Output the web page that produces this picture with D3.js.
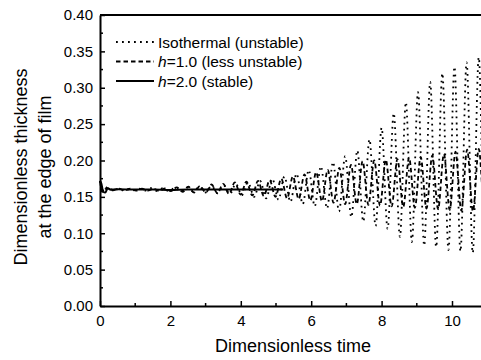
<!DOCTYPE html>
<html>
<head>
<meta charset="utf-8">
<script src="https://cdn.jsdelivr.net/npm/d3@7"></script>
<style>
  html, body { margin: 0; padding: 0; background: #fff; }
  svg { display: block; font-family: Arial, "Liberation Sans", sans-serif; }
</style>
</head>
<body>
<div id="chart"></div>
<script>
// Extrema of each curve: [dimensionless time, thickness]
const isothermalPoints = [
    [0, 0.172], [0.06, 0.157], [0.15, 0.164], [0.25, 0.159], [0.41, 0.1615], [0.58, 0.1585],
    [0.755, 0.161], [0.93, 0.159], [1.10, 0.1615], [1.27, 0.1585], [1.445, 0.162], [1.62, 0.158],
    [1.79, 0.162], [1.96, 0.158], [2.135, 0.1625], [2.31, 0.1575], [2.48, 0.163], [2.65, 0.157],
    [2.825, 0.164], [3.00, 0.156], [3.17, 0.165], [3.34, 0.155], [3.515, 0.166], [3.69, 0.154],
    [3.86, 0.168], [4.03, 0.152], [4.205, 0.170], [4.38, 0.150], [4.55, 0.172], [4.72, 0.148],
    [4.895, 0.175], [5.07, 0.146], [5.24, 0.178], [5.41, 0.143], [5.585, 0.182], [5.76, 0.140],
    [5.93, 0.187], [6.10, 0.137], [6.275, 0.192], [6.45, 0.134], [6.62, 0.198], [6.79, 0.130],
    [6.965, 0.206], [7.14, 0.122], [7.31, 0.214], [7.48, 0.116], [7.655, 0.229], [7.83, 0.110],
    [8.00, 0.245], [8.17, 0.106], [8.345, 0.265], [8.52, 0.095], [8.69, 0.280], [8.86, 0.088],
    [9.035, 0.294], [9.21, 0.083], [9.38, 0.308], [9.55, 0.081], [9.725, 0.320], [9.90, 0.077],
    [10.07, 0.329], [10.24, 0.075], [10.415, 0.335], [10.59, 0.073], [10.76, 0.342], [10.93, 0.074],
    [11.105, 0.345]
];
const h1Points = [
    [0, 0.172], [0.06, 0.157], [0.20, 0.162], [0.365, 0.159], [0.53, 0.1615], [0.695, 0.1588],
    [0.86, 0.1612], [1.025, 0.1585], [1.19, 0.1612], [1.355, 0.1585], [1.52, 0.1613], [1.685, 0.158],
    [1.85, 0.1615], [2.015, 0.158], [2.18, 0.163], [2.345, 0.157], [2.51, 0.164], [2.675, 0.156],
    [2.84, 0.165], [3.005, 0.156], [3.17, 0.167], [3.335, 0.155], [3.50, 0.168], [3.665, 0.154],
    [3.83, 0.170], [3.995, 0.153], [4.16, 0.171], [4.325, 0.152], [4.49, 0.172], [4.655, 0.151],
    [4.82, 0.173], [4.985, 0.150], [5.15, 0.175], [5.315, 0.148], [5.48, 0.178], [5.645, 0.147],
    [5.81, 0.181], [5.975, 0.145], [6.14, 0.184], [6.305, 0.144], [6.47, 0.187], [6.635, 0.142],
    [6.80, 0.190], [6.965, 0.140], [7.13, 0.194], [7.295, 0.140], [7.46, 0.199], [7.625, 0.139],
    [7.79, 0.200], [7.955, 0.138], [8.12, 0.201], [8.285, 0.137], [8.45, 0.202], [8.615, 0.136],
    [8.78, 0.204], [8.945, 0.135], [9.11, 0.205], [9.275, 0.134], [9.44, 0.207], [9.605, 0.133],
    [9.77, 0.209], [9.935, 0.132], [10.10, 0.212], [10.265, 0.131], [10.43, 0.215], [10.595, 0.130],
    [10.76, 0.216], [10.925, 0.130], [11.09, 0.217]
];
const h2Points = [
    [0, 0.172], [0.04, 0.168], [0.09, 0.157], [0.15, 0.156], [0.22, 0.162], [0.30, 0.160],
    [0.50, 0.1605], [1.0, 0.160], [1.5, 0.160], [2.0, 0.1595], [2.5, 0.160], [3.0, 0.160],
    [3.5, 0.160], [4.0, 0.160], [4.5, 0.160], [5.0, 0.160], [5.2, 0.160]
];
const xTicks = [0, 2, 4, 6, 8, 10];
const xMinorTicks = [1, 3, 5, 7, 9];
const yTicks = [0.00, 0.05, 0.10, 0.15, 0.20, 0.25, 0.30, 0.35, 0.40];
const yMinorTicks = [0.025, 0.075, 0.125, 0.175, 0.225, 0.275, 0.325, 0.375];
const legendLabels = ["Isothermal (unstable)", "=1.0 (less unstable)", "=2.0 (stable)"];

//Setup Dimensions
const width = 481;
const height = 360;
const plotLeft = 100, plotTop = 15, plotBottom = 306;

const svg = d3.select("#chart")
    .append("svg")
    .attr("width", width)
    .attr("height", height);

//Scales
const x = d3.scaleLinear().domain([0, 11]).range([plotLeft, plotLeft + 11 * 35.2]);
const y = d3.scaleLinear().domain([0, 0.4]).range([plotBottom, plotTop]);

//Curves
const line = d3.line()
    .x(d => x(d[0]))
    .y(d => y(d[1]))
    .curve(d3.curveMonotoneX);

const series = [
    { points: isothermalPoints, dash: "1.8,4.2", width: 1.8 },
    { points: h1Points, dash: "4.5,3", width: 1.8 },
    { points: h2Points, dash: null, width: 2 }
];

svg.selectAll(".curve")
    .data(series)
    .enter().append("path")
    .attr("class", "curve")
    .attr("d", d => line(d.points))
    .attr("fill", "none")
    .attr("stroke", "#000")
    .attr("stroke-width", d => d.width)
    .attr("stroke-dasharray", d => d.dash);

//Axes
const yAxis = svg.append("g")
    .attr("transform", `translate(${plotLeft},0)`)
    .call(d3.axisLeft(y).tickValues(yTicks).tickSizeInner(-5).tickSizeOuter(0)
        .tickFormat(d3.format(".2f")).tickPadding(7));
yAxis.selectAll(".minor")
    .data(yMinorTicks)
    .enter().append("line")
    .attr("class", "minor")
    .attr("x1", 0).attr("x2", 3)
    .attr("y1", d => y(d)).attr("y2", d => y(d))
    .attr("stroke", "#000").attr("stroke-width", 1.5);

const xAxis = svg.append("g")
    .attr("transform", `translate(0,${plotBottom})`)
    .call(d3.axisBottom(x).tickValues(xTicks).tickSizeInner(-5).tickSizeOuter(0)
        .tickFormat(d3.format("d")).tickPadding(9));
xAxis.selectAll(".minor")
    .data(xMinorTicks)
    .enter().append("line")
    .attr("class", "minor")
    .attr("x1", d => x(d)).attr("x2", d => x(d))
    .attr("y1", 0).attr("y2", -3)
    .attr("stroke", "#000").attr("stroke-width", 1.5);

svg.selectAll(".domain").attr("stroke-width", 2);
svg.selectAll(".tick line").attr("stroke-width", 1.5);
svg.selectAll(".tick text")
    .attr("font-size", 15)
    .attr("font-family", "Arial, 'Liberation Sans', sans-serif")
    .attr("fill", "#000");

//Top frame line
svg.append("line")
    .attr("x1", plotLeft).attr("x2", width)
    .attr("y1", plotTop).attr("y2", plotTop)
    .attr("stroke", "#000").attr("stroke-width", 2);

//Axis titles
svg.append("text")
    .attr("x", 293).attr("y", 352)
    .attr("text-anchor", "middle")
    .attr("font-size", 18)
    .text("Dimensionless time");

const yTitle = svg.append("text")
    .attr("transform", "translate(27,167) rotate(-90)")
    .attr("text-anchor", "middle")
    .attr("font-size", 18);
yTitle.append("tspan").attr("x", 0).attr("dy", 0).text("Dimensionless thickness");
yTitle.append("tspan").attr("x", 0).attr("dy", 24).text("at the edge of film");

//Legend
const legend = svg.selectAll(".legend")
    .data(series)
    .enter().append("g")
    .attr("class", "legend")
    .attr("transform", (d, i) => `translate(116,${42 + i * 19.5})`);
legend.append("line")
    .attr("x1", 0).attr("x2", 38)
    .attr("stroke", "#000")
    .attr("stroke-width", d => d.width)
    .attr("stroke-dasharray", d => d.dash);
const legendText = legend.append("text")
    .attr("x", 42).attr("y", 5.5)
    .attr("font-size", 15.5);
legendText.filter((d, i) => i > 0)
    .append("tspan").attr("font-style", "italic").text("h");
legendText.append("tspan").text((d, i) => legendLabels[i]);
</script>
</body>
</html>
